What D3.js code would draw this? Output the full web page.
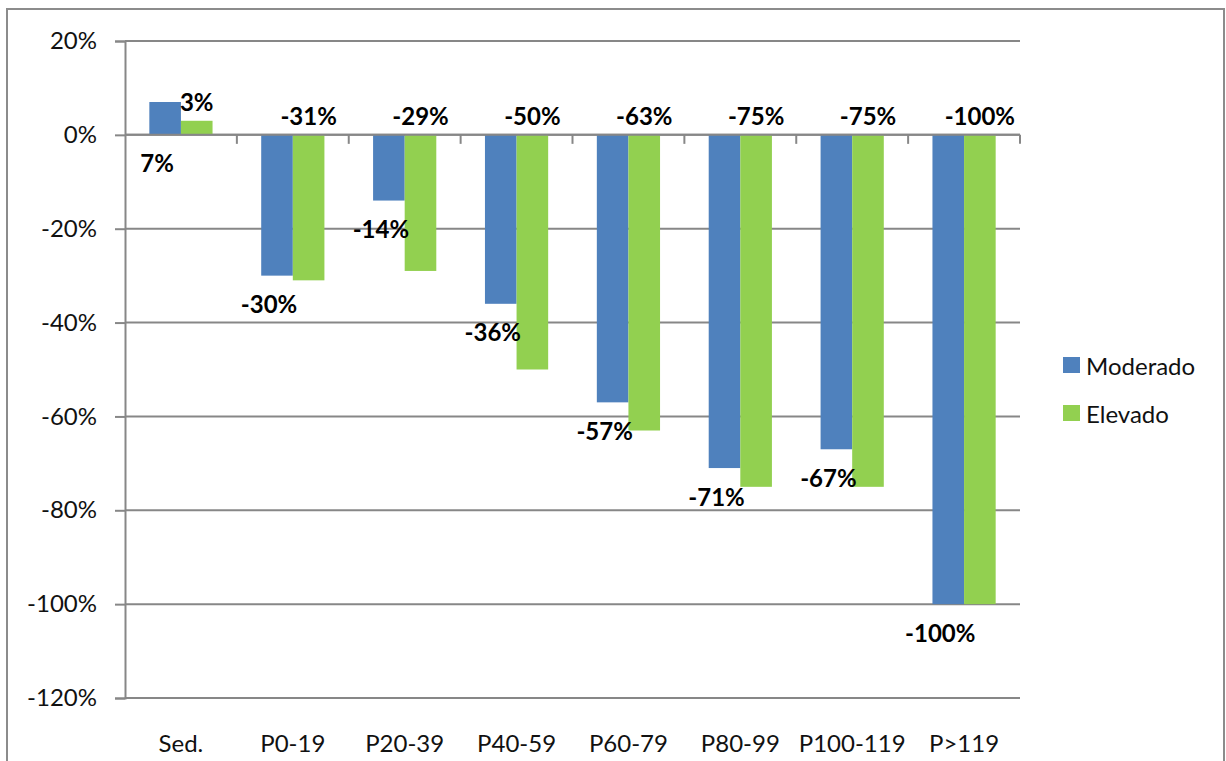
<!DOCTYPE html>
<html>
<head>
<meta charset="utf-8">
<script src="https://cdn.jsdelivr.net/npm/d3@7"></script>
<style>
  html, body { margin: 0; padding: 0; background: #fff; }
  svg { display: block; }
  text { font-family: Lato, "Open Sans", "Liberation Sans", sans-serif; }
</style>
</head>
<body>
<svg id="chart" width="1226" height="761"></svg>
<script>
// Categories and series values (percent change)
const categories = ["Sed.", "P0-19", "P20-39", "P40-59", "P60-79", "P80-99", "P100-119", "P>119"];
const seriesNames = ["Moderado", "Elevado"];
const moderado = [7, -30, -14, -36, -57, -71, -67, -100];
const elevado  = [3, -31, -29, -50, -63, -75, -75, -100];
const yTicks = [20, 0, -20, -40, -60, -80, -100, -120];

const colors = { Moderado: "#4f81bd", Elevado: "#92d050" };
const gridColor = "#878787";

const svg = d3.select("#chart");

// Outer chart frame
svg.append("rect")
  .attr("x", 7).attr("y", 9)
  .attr("width", 1217).attr("height", 770)
  .attr("fill", "none").attr("stroke", "#8c8c8c").attr("stroke-width", 2);

const plot = { left: 125, right: 1020, top: 41, bottom: 698 };

const y = d3.scaleLinear().domain([-120, 20]).range([plot.bottom, plot.top]);
const x0 = d3.scaleBand().domain(categories)
  .range([plot.left, plot.right])
  .paddingInner(0.435).paddingOuter(0.2175);
const x1 = d3.scaleBand().domain(seriesNames).range([0, x0.bandwidth()]);

const rows = categories.map((c, i) => ({
  cat: c,
  vals: [
    { s: "Moderado", v: moderado[i] },
    { s: "Elevado", v: elevado[i] }
  ]
}));

// Horizontal gridlines
svg.append("g").selectAll("line").data(yTicks).join("line")
  .attr("x1", plot.left).attr("x2", plot.right)
  .attr("y1", d => y(d)).attr("y2", d => y(d))
  .attr("stroke", gridColor).attr("stroke-width", 2);

// Value axis
const yAxis = svg.append("g")
  .attr("transform", `translate(${plot.left},0)`)
  .call(d3.axisLeft(y).tickValues(yTicks).tickSize(10).tickPadding(18)
    .tickFormat(d => d + "%"));
yAxis.select(".domain").attr("stroke", gridColor).attr("stroke-width", 2);
yAxis.selectAll(".tick line").attr("stroke", gridColor).attr("stroke-width", 2);
yAxis.selectAll(".tick text")
  .attr("font-size", 24).attr("fill", "#111")
  .style("font-family", "Lato, 'Open Sans', sans-serif");

// Bars
const groups = svg.append("g").selectAll("g").data(rows).join("g")
  .attr("transform", d => `translate(${x0(d.cat)},0)`);

groups.selectAll("rect").data(d => d.vals).join("rect")
  .attr("x", d => x1(d.s))
  .attr("width", x1.bandwidth())
  .attr("y", d => y(Math.max(0, d.v)))
  .attr("height", d => Math.abs(y(d.v) - y(0)))
  .attr("fill", d => colors[d.s]);

// Category axis along the zero line, tick marks at category boundaries
const boundaries = d3.range(categories.length + 1).map(i => plot.left + i * x0.step());
svg.append("line")
  .attr("x1", plot.left).attr("x2", plot.right)
  .attr("y1", y(0)).attr("y2", y(0))
  .attr("stroke", gridColor).attr("stroke-width", 2);
svg.append("g").selectAll("line").data(boundaries.slice(1)).join("line")
  .attr("x1", d => d).attr("x2", d => d)
  .attr("y1", y(0)).attr("y2", y(0) + 9)
  .attr("stroke", gridColor).attr("stroke-width", 2);

// Category labels below the plot
svg.append("g").selectAll("text").data(categories).join("text")
  .attr("x", d => x0(d) + x0.bandwidth() / 2)
  .attr("y", 742)
  .attr("text-anchor", "middle")
  .attr("dominant-baseline", "central")
  .attr("font-size", 24).attr("fill", "#111")
  .text(d => d);

// Data labels: Moderado below the bar end, Elevado above the zero line
groups.selectAll("text.val").data(d => d.vals).join("text")
  .attr("class", "val")
  .attr("x", d => x1(d.s) + x1.bandwidth() / 2 + (d.s === "Moderado" ? -8 : 0))
  .attr("y", d => d.s === "Moderado"
    ? y(Math.min(0, d.v)) + 28
    : y(Math.max(0, d.v)) - 19)
  .attr("text-anchor", "middle")
  .attr("dominant-baseline", "central")
  .attr("font-size", 24).attr("font-weight", "bold").attr("fill", "#000")
  .text(d => d.v + "%");

// Legend
const legend = svg.append("g").selectAll("g").data(seriesNames).join("g")
  .attr("transform", (d, i) => `translate(1063,${365 + i * 48})`);
legend.append("rect")
  .attr("x", 0).attr("y", -8).attr("width", 17).attr("height", 16)
  .attr("fill", d => colors[d]);
legend.append("text")
  .attr("x", 23).attr("y", 0)
  .attr("dominant-baseline", "central")
  .attr("font-size", 24).attr("fill", "#111")
  .text(d => d);
</script>
</body>
</html>
